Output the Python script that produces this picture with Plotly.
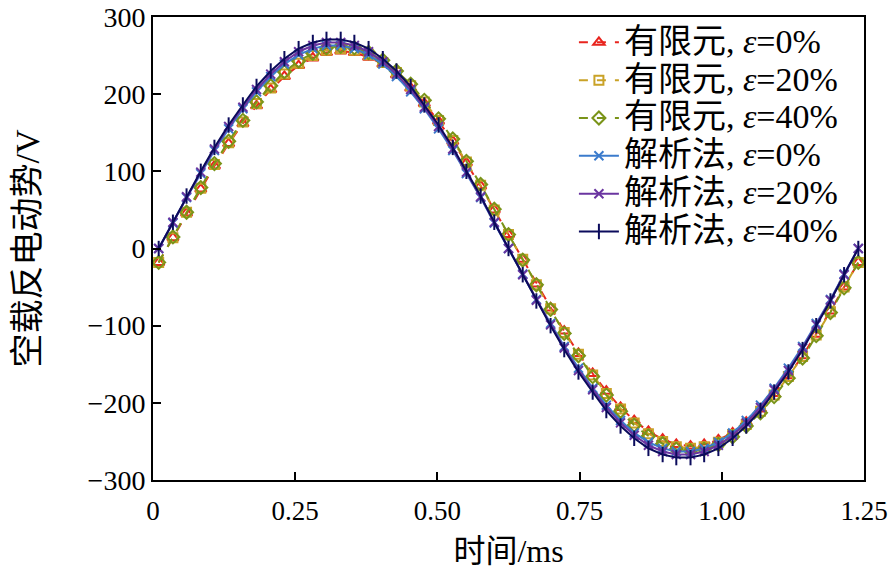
import plotly.graph_objects as go

# time (ms)
t = [0.010, 0.035, 0.059, 0.084, 0.108, 0.133, 0.158, 0.182, 0.207, 0.231,
     0.256, 0.281, 0.305, 0.330, 0.354, 0.379, 0.404, 0.428, 0.453, 0.477,
     0.502, 0.527, 0.551, 0.576, 0.600, 0.625, 0.650, 0.674, 0.699, 0.723,
     0.748, 0.773, 0.797, 0.822, 0.846, 0.871, 0.896, 0.920, 0.945, 0.969,
     0.994, 1.019, 1.043, 1.068, 1.092, 1.117, 1.142, 1.166, 1.191, 1.215, 1.240]

fem_0 = [-18, 14, 46, 77, 107, 136, 162, 185, 206, 223, 237, 247, 254, 256, 254, 248, 239, 225, 208, 188,
         165, 139, 111, 81, 50, 18, -14, -46, -77, -107, -136, -162, -185, -206, -223, -237, -247, -254,
         -256, -254, -248, -239, -225, -208, -188, -165, -139, -111, -81, -50, -18]
fem_20 = [-18, 14, 47, 78, 109, 137, 164, 188, 208, 226, 240, 250, 257, 259, 257, 251, 241, 228, 211, 190,
          166, 140, 112, 82, 50, 18, -14, -47, -78, -109, -137, -164, -188, -208, -226, -240, -250, -257,
          -259, -257, -251, -241, -228, -211, -190, -166, -140, -112, -82, -50, -18]
fem_40 = [-18, 15, 47, 79, 110, 139, 166, 190, 211, 229, 243, 253, 260, 262, 260, 254, 244, 230, 213, 192,
          168, 142, 113, 83, 51, 18, -15, -47, -79, -110, -139, -166, -190, -211, -229, -243, -253, -260,
          -262, -260, -254, -244, -230, -213, -192, -168, -142, -113, -83, -51, -18]
ana_0 = [0, 33, 66, 97, 127, 155, 181, 203, 223, 239, 251, 259, 263, 263, 259, 251, 239, 223, 203, 181,
         155, 127, 97, 66, 33, 0, -33, -66, -97, -127, -155, -181, -203, -223, -239, -251, -259, -263,
         -263, -259, -251, -239, -223, -203, -181, -155, -127, -97, -66, -33, 0]
ana_20 = [0, 34, 67, 99, 129, 158, 183, 206, 226, 242, 255, 263, 267, 267, 263, 255, 242, 226, 206, 183,
          158, 129, 99, 67, 34, 0, -34, -67, -99, -129, -158, -183, -206, -226, -242, -255, -263, -267,
          -267, -263, -255, -242, -226, -206, -183, -158, -129, -99, -67, -34, 0]
ana_40 = [0, 34, 68, 100, 131, 160, 186, 210, 230, 246, 259, 267, 271, 271, 267, 259, 246, 230, 210, 186,
          160, 131, 100, 68, 34, 0, -34, -68, -100, -131, -160, -186, -210, -230, -246, -259, -267, -271,
          -271, -267, -259, -246, -230, -210, -186, -160, -131, -100, -68, -34, 0]

names = ["有限元, <i>ε</i>=0%", "有限元, <i>ε</i>=20%", "有限元, <i>ε</i>=40%",
         "解析法, <i>ε</i>=0%", "解析法, <i>ε</i>=20%", "解析法, <i>ε</i>=40%"]
series = [fem_0, fem_20, fem_40, ana_0, ana_20, ana_40]
colors = ["#e8241e", "#c9a227", "#7a9419", "#3b7bcc", "#6a35a0", "#0b0b5c"]
symbols = ["triangle-up-open", "square-open", "diamond-open", "x-thin-open", "x-thin-open", "line-ns-open"]
dashes = ["dash", "dash", "dash", "solid", "solid", "solid"]
sizes = [10, 9, 10, 9, 9, 11]

FONT = "Liberation Serif, Times New Roman, Noto Sans CJK SC, serif"

fig = go.Figure()
for i, (nm, y) in enumerate(zip(names, series)):
    fig.add_trace(go.Scatter(
        x=t, y=y, name='<span style="font-size:34px">' + nm + '</span>',
        mode="lines+markers",
        line=dict(color=colors[i], width=2, dash=dashes[i]),
        marker=dict(symbol=symbols[i], size=sizes[i], color=colors[i],
                    line=dict(color=colors[i], width=2)),
    ))

fig.update_layout(
    width=888, height=576,
    margin=dict(l=153, r=24, t=17, b=96),
    paper_bgcolor="white", plot_bgcolor="white",
    font=dict(family=FONT, size=30, color="black"),
    legend=dict(x=0.592, y=0.997, xanchor="left", yanchor="top",
                bgcolor="rgba(0,0,0,0)", itemwidth=40,
                font=dict(family=FONT, size=26.8), traceorder="normal"),
    showlegend=True,
)
fig.update_xaxes(
    range=[0, 1.25], tickvals=[0, 0.25, 0.5, 0.75, 1.0, 1.25],
    ticktext=["0", "0.25", "0.50", "0.75", "1.00", "1.25"],
    ticks="inside", ticklen=8, tickwidth=1.5, tickcolor="black",
    showline=True, linecolor="black", linewidth=2, mirror=True,
    showgrid=False, zeroline=False, automargin=False,
    ticklabeloverflow="allow", ticklabelstandoff=6,
    title=dict(text="时间/ms", standoff=14, font=dict(size=32)),
    tickfont=dict(size=27),
)
fig.update_yaxes(
    range=[-300, 300], dtick=100,
    ticks="inside", ticklen=8, tickwidth=1.5, tickcolor="black",
    showline=True, linecolor="black", linewidth=2, mirror=True,
    showgrid=False, zeroline=False, automargin=False,
    ticklabeloverflow="allow",
    title=dict(text="空载反电动势/V", standoff=38, font=dict(size=34)),
    tickfont=dict(size=28),
)

fig.write_html("out.html")
